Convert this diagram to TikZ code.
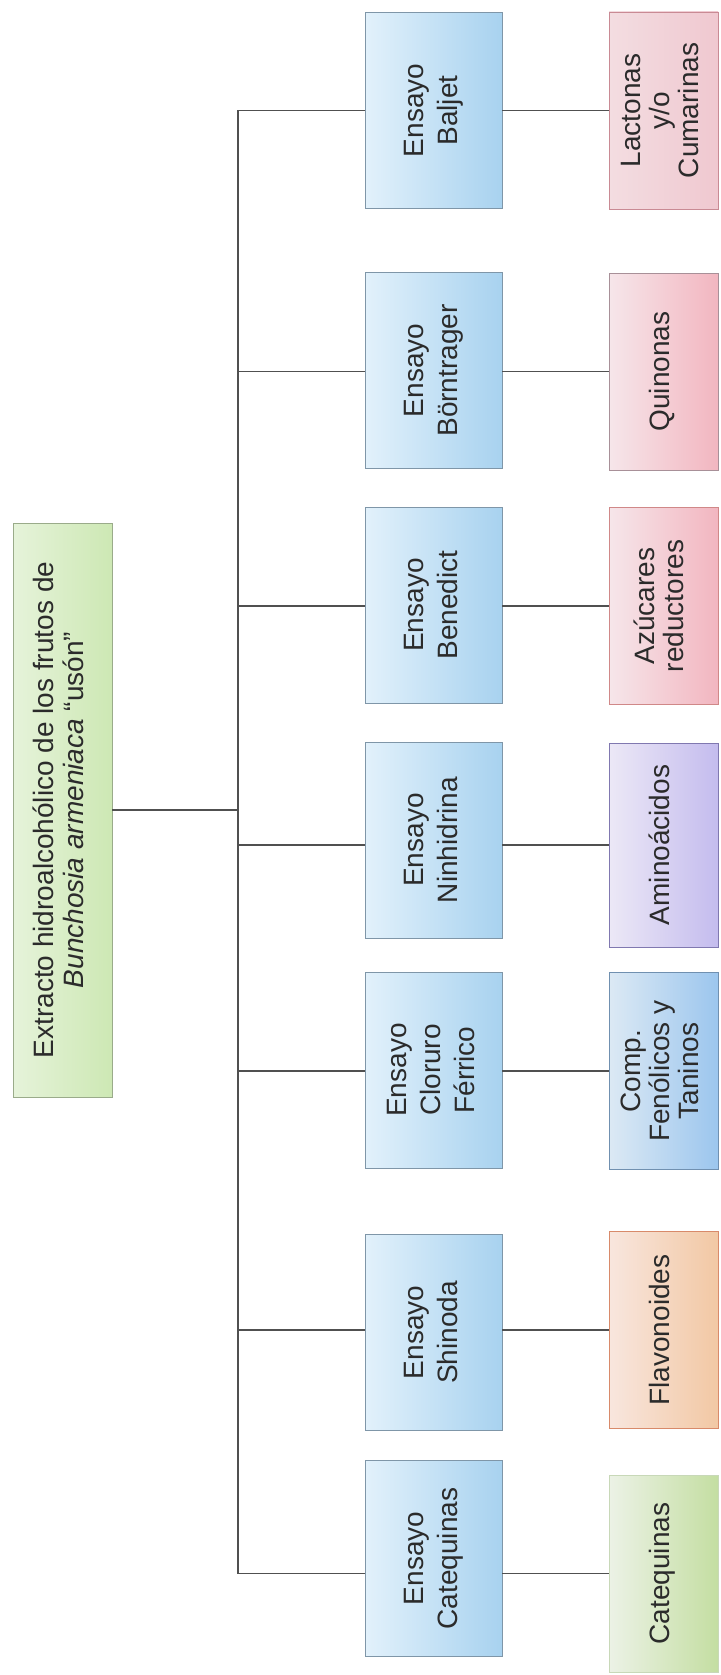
\documentclass[tikz,border=0pt]{standalone}
\usepackage{fontspec}
\setmainfont{Liberation Sans}
\usepackage{graphicx}
\definecolor{txt}{HTML}{2B2B2B}
\definecolor{lineC}{HTML}{505050}
\definecolor{testL}{HTML}{E2F1FB}
\definecolor{testR}{HTML}{A8D2EF}
\definecolor{testB}{HTML}{7F96A8}
\definecolor{rootL}{HTML}{E6F3DA}
\definecolor{rootR}{HTML}{CDE8B4}
\definecolor{rootB}{HTML}{9AAB8A}
\definecolor{lacL}{HTML}{F3DDE1}
\definecolor{lacR}{HTML}{F0C8D0}
\definecolor{lacB}{HTML}{C98A94}
\definecolor{quiL}{HTML}{F6E6EA}
\definecolor{quiR}{HTML}{F2B6C0}
\definecolor{quiB}{HTML}{A89098}
\definecolor{azuB}{HTML}{D08888}
\definecolor{amiL}{HTML}{ECE8F6}
\definecolor{amiR}{HTML}{C4BCEE}
\definecolor{amiB}{HTML}{8078B0}
\definecolor{comL}{HTML}{DCE9F4}
\definecolor{comR}{HTML}{9CC6EE}
\definecolor{comB}{HTML}{7090B0}
\definecolor{flaL}{HTML}{F8E6DE}
\definecolor{flaR}{HTML}{F2C8A4}
\definecolor{flaB}{HTML}{D88A6A}
\definecolor{catL}{HTML}{ECF2E6}
\definecolor{catR}{HTML}{C4DEA2}
\definecolor{catB}{HTML}{C8D8B8}
\newcommand\rtext[2]{\rotatebox{90}{\fontsize{28}{#1}\selectfont\begin{tabular}{@{}c@{}}#2\end{tabular}}}
\tikzset{
  box/.style={rectangle, inner sep=0pt, line width=0.8pt, text=txt},
  testbox/.style={box, minimum width=137pt, minimum height=196pt, left color=testL, right color=testR, draw=testB},
  resbox/.style={box, minimum width=109pt, minimum height=197pt},
  rootbox/.style={box, minimum width=99pt, minimum height=574pt, left color=rootL, right color=rootR, draw=rootB},
  conn/.style={draw=lineC, line width=1.5pt}
}
\begin{document}
\begin{tikzpicture}[x=1pt,y=-1pt]
\useasboundingbox (0,0) rectangle (720,1675);
\node[rootbox] (root) at (62.5,810) {\rtext{29}{Extracto hidroalcohólico de los frutos de\\\textit{Bunchosia armeniaca} “usón”}};
\coordinate (trunk) at (238,0);

\node[testbox] (t1) at (433.5,110.5) {\rtext{34}{Ensayo\\Baljet}};
\node[testbox] (t2) at (433.5,370.5) {\rtext{34}{Ensayo\\Börntrager}};
\node[testbox] (t3) at (433.5,605) {\rtext{34}{Ensayo\\Benedict}};
\node[testbox] (t4) at (433.5,840) {\rtext{34}{Ensayo\\Ninhidrina}};
\node[testbox] (t5) at (433.5,1070) {\rtext{34}{Ensayo\\Cloruro\\Férrico}};
\node[testbox] (t6) at (433.5,1332.5) {\rtext{34}{Ensayo\\Shinoda}};
\node[testbox] (t7) at (433.5,1558.5) {\rtext{34}{Ensayo\\Catequinas}};

\node[resbox, left color=lacL, right color=lacR, draw=lacB] (r1) at (663.5,110.5) {\rtext{29}{Lactonas\\y/o\\Cumarinas}};
\node[resbox, left color=quiL, right color=quiR, draw=quiB] (r2) at (663.5,371.5) {\rtext{29}{Quinonas}};
\node[resbox, left color=quiL, right color=quiR, draw=azuB] (r3) at (663.5,606) {\rtext{29}{Azúcares\\reductores}};
\node[resbox, left color=amiL, right color=amiR, draw=amiB, minimum height=204pt] (r4) at (663.5,845) {\rtext{29}{Aminoácidos}};
\node[resbox, left color=comL, right color=comR, draw=comB] (r5) at (663.5,1071) {\rtext{29}{Comp.\\Fenólicos y\\Taninos}};
\node[resbox, left color=flaL, right color=flaR, draw=flaB] (r6) at (663.5,1330) {\rtext{29}{Flavonoides}};
\node[resbox, left color=catL, right color=catR, draw=catB] (r7) at (663.5,1573.5) {\rtext{29}{Catequinas}};

\draw[conn] (root.east) -- (trunk |- root.east);
\draw[conn] (trunk |- r1.west) -- (trunk |- r7.west);
\foreach \i in {1,...,7}{
  \draw[conn] (trunk |- r\i.west) -- (t\i.west |- r\i.west);
  \draw[conn] (t\i.east |- r\i.west) -- (r\i.west);
}
\end{tikzpicture}
\end{document}
